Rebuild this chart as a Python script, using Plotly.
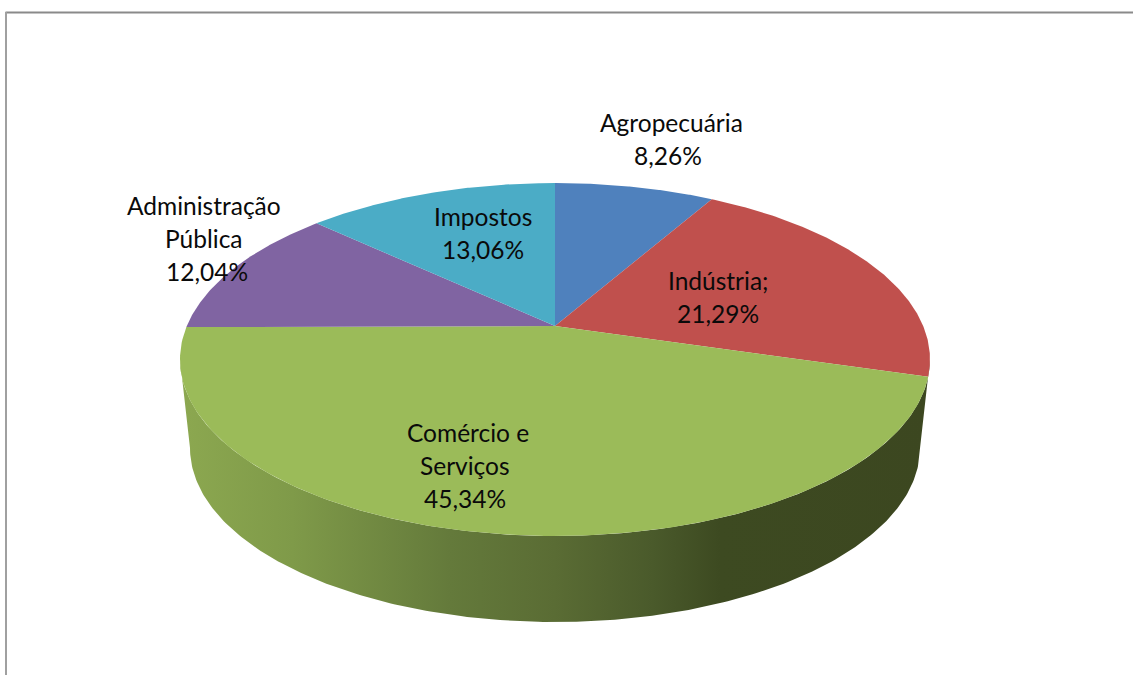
import numpy as np
import plotly.graph_objects as go

# ---- data ----
categories = ["Agropecuária", "Indústria", "Comércio e Serviços", "Administração Pública", "Impostos"]
shares = [8.26, 21.29, 45.34, 12.04, 13.06]
slice_colors = ["#4F81BD", "#C0504D", "#9BBB59", "#8064A2", "#4BACC6"]

# text lines: (text, x, y) in pixels
label_lines = [
    ("Agropecuária", 671, 122), ("8,26%", 668, 155),
    ("Indústria;", 718, 280), ("21,29%", 718, 313),
    ("Comércio e", 468, 432), ("Serviços", 465, 465), ("45,34%", 465, 498),
    ("Administração", 204, 205), ("Pública", 204, 238), ("12,04%", 207, 271),
    ("Impostos", 483, 216), ("13,06%", 483, 249),
]

# ---- tilted-pie projection ----
CX, CY, RX, RY, APEX = 555.0, 359.5, 375.0, 176.5, 33.5
C = APEX / RY
K = RX * np.sqrt(1 - C * C)


def project(theta):
    """Clockwise angle from 12 o'clock on the pie -> page pixels."""
    X, Y = np.sin(theta), np.cos(theta)
    d = C * Y + 1
    return CX + K * X / d, CY - (RY * Y + APEX) / d


fig = go.Figure()

# side wall with horizontal gradient
t = np.linspace(np.pi, 0, 240)
wall_x = np.concatenate([CX + RX * np.cos(t), 555 + 365 * np.cos(t[::-1])])
wall_y = np.concatenate([CY + RY * np.sin(t), 448 + 174 * np.sin(t[::-1])])
fig.add_trace(go.Scatter(
    x=wall_x, y=wall_y, mode="lines", line=dict(width=0), fill="toself",
    fillgradient=dict(
        type="horizontal", start=180, stop=930,
        colorscale=[[0, "#8CA850"], [0.15, "#7F9A49"], [0.36, "#647A3B"],
                    [0.50, "#5A6C34"], [0.63, "#4A5A2B"], [0.72, "#3D4A21"], [1, "#3C4720"]],
    ),
    hoverinfo="skip", showlegend=False,
))

# top-surface slices, computed from the shares
edges = np.concatenate([[0], np.cumsum(shares)]) / sum(shares) * 2 * np.pi
for name, a0, a1, col in zip(categories, edges[:-1], edges[1:], slice_colors):
    th = np.linspace(a0, a1, 160)
    px, py = project(th)
    ax, ay = CX, CY - APEX
    fig.add_trace(go.Scatter(
        x=np.concatenate([[ax], px, [ax]]), y=np.concatenate([[ay], py, [ay]]),
        mode="lines", line=dict(width=0), fill="toself", fillcolor=col,
        name=name, hoverinfo="name", showlegend=False,
    ))

annotations = [
    dict(x=x, y=y, text=s, xref="x", yref="y", showarrow=False,
         xanchor="center", yanchor="middle",
         font=dict(family="Lato", size=24.5, color="#0a0a0a"))
    for s, x, y in label_lines
]

border = "#8A8A8A"
shapes = [
    dict(type="line", xref="x", yref="y", x0=5.5, x1=1133, y0=12.5, y1=12.5, line=dict(color=border, width=2)),
    dict(type="line", xref="x", yref="y", x0=6, x1=6, y0=12, y1=675, line=dict(color="#A0A0A0", width=2)),
]

fig.update_layout(
    width=1133, height=675, margin=dict(l=0, r=0, t=0, b=0),
    paper_bgcolor="white", plot_bgcolor="white", showlegend=False,
    xaxis=dict(range=[0, 1133], visible=False, fixedrange=True),
    yaxis=dict(range=[675, 0], visible=False, fixedrange=True),
    annotations=annotations, shapes=shapes,
)
fig.write_html("out.html", config={"displayModeBar": False},
               post_script="document.body.style.margin='0';document.body.style.overflow='hidden';")
